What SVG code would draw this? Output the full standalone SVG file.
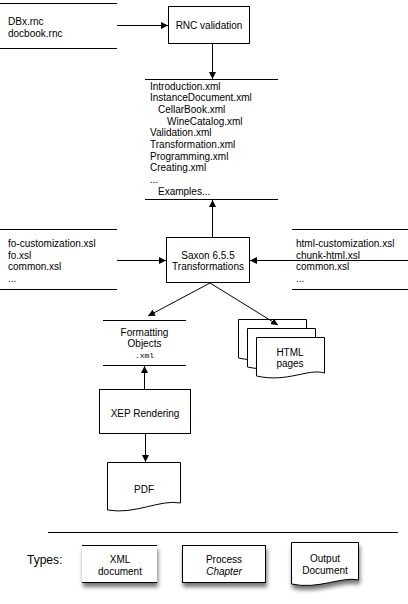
<svg xmlns="http://www.w3.org/2000/svg" width="408" height="604" viewBox="0 0 408 604">
<style>
text{font-family:"Liberation Sans",Arial,sans-serif;font-size:10px;fill:#000}
.c{text-anchor:middle}
.m{font-family:"Liberation Mono","Courier New",monospace;font-size:8px}
.ln{stroke:#000;stroke-width:1;fill:none}
.box{stroke:#000;stroke-width:1;fill:#fff}
.ar{stroke:#000;stroke-width:1;fill:none;marker-end:url(#ah)}
</style>
<defs>
<marker id="ah" viewBox="0 0 10 10" refX="10" refY="5" markerWidth="7" markerHeight="7" markerUnits="userSpaceOnUse" orient="auto">
<path d="M0,0 L10,5 L0,10 Z" fill="#000"/>
</marker>
<filter id="sh" x="-20%" y="-20%" width="140%" height="160%">
<feDropShadow dx="1" dy="4" stdDeviation="2" flood-color="#000" flood-opacity="0.55"/>
</filter>
</defs>

<g id="rnc-files">
<line class="ln" x1="0" y1="3.5" x2="117" y2="3.5"/>
<line class="ln" x1="0" y1="48.5" x2="117" y2="48.5"/>
<text x="8" y="25">DBx.rnc</text>
<text x="8" y="36.7">docbook.rnc</text>
</g>

<g id="rnc-validation">
<rect class="box" x="168.5" y="6.5" width="81" height="37"/>
<text class="c" x="209" y="28.5">RNC validation</text>
</g>

<g id="chapters">
<line class="ln" x1="145" y1="79.5" x2="278" y2="79.5"/>
<line class="ln" x1="145" y1="199.5" x2="278" y2="199.5"/>
<text x="150" y="89.5">Introduction.xml</text>
<text x="150" y="101.2">InstanceDocument.xml</text>
<text x="158" y="112.9">CellarBook.xml</text>
<text x="167" y="124.6">WineCatalog.xml</text>
<text x="150" y="136.3">Validation.xml</text>
<text x="150" y="148">Transformation.xml</text>
<text x="150" y="159.7">Programming.xml</text>
<text x="150" y="171.4">Creating.xml</text>
<text x="150" y="183.1">...</text>
<text x="158" y="194.8">Examples...</text>
</g>

<g id="fo-stylesheets">
<line class="ln" x1="0" y1="229.5" x2="117" y2="229.5"/>
<line class="ln" x1="0" y1="289.5" x2="117" y2="289.5"/>
<text x="8" y="247">fo-customization.xsl</text>
<text x="8" y="258.5">fo.xsl</text>
<text x="8" y="270">common.xsl</text>
<text x="8" y="281.5">...</text>
</g>

<g id="html-stylesheets">
<line class="ln" x1="292" y1="229.5" x2="408" y2="229.5"/>
<line class="ln" x1="292" y1="289.5" x2="408" y2="289.5"/>
<text x="296" y="247">html-customization.xsl</text>
<text x="296" y="258.5">chunk-html.xsl</text>
<text x="296" y="270">common.xsl</text>
<text x="296" y="281.5">...</text>
</g>

<g id="saxon">
<rect class="box" x="166.5" y="237.5" width="83" height="45"/>
<text class="c" x="208" y="258.5">Saxon 6.5.5</text>
<text class="c" x="208" y="270">Transformations</text>
</g>

<g id="formatting-objects">
<line class="ln" x1="103" y1="320.5" x2="186" y2="320.5"/>
<line class="ln" x1="103" y1="365.5" x2="186" y2="365.5"/>
<text class="c" x="144.5" y="335.5">Formatting</text>
<text class="c" x="144.5" y="347">Objects</text>
<text class="c m" x="144.5" y="358">.xml</text>
</g>

<g id="html-pages">
<path class="box" d="M238.5,319.5 H306.5 V355 C290,350 270,365 238.5,358 Z"/>
<path class="box" d="M247.5,328.5 H315.5 V364 C299,359 279,374 247.5,367 Z"/>
<path class="box" d="M256.5,337.5 H324.5 V373 C308,368 288,383 256.5,376 Z"/>
<text class="c" x="290" y="355.5">HTML</text>
<text class="c" x="290" y="367">pages</text>
</g>

<g id="xep">
<rect class="box" x="99.5" y="389.5" width="91" height="44"/>
<text class="c" x="145" y="416.5">XEP Rendering</text>
</g>

<g id="pdf">
<path class="box" d="M107.5,462.5 H180.5 V503 C160,499 135,515 107.5,510 Z"/>
<text class="c" x="144" y="492.5">PDF</text>
</g>

<g id="connectors">
<line class="ar" x1="117" y1="25.5" x2="168" y2="25.5"/>
<line class="ar" x1="212.5" y1="44" x2="212.5" y2="79"/>
<line class="ar" x1="212.5" y1="237" x2="212.5" y2="200"/>
<line class="ar" x1="117" y1="260.5" x2="166" y2="260.5"/>
<line class="ar" x1="408" y1="260.5" x2="250" y2="260.5"/>
<line class="ar" x1="210" y1="283" x2="148" y2="316"/>
<line class="ar" x1="210" y1="283" x2="278" y2="325"/>
<line class="ar" x1="144.5" y1="389" x2="144.5" y2="366"/>
<line class="ar" x1="145.5" y1="434" x2="145.5" y2="462"/>
</g>

<g id="legend">
<line class="ln" x1="48" y1="532.5" x2="398" y2="532.5"/>
<text x="27" y="564" style="font-size:12px">Types:</text>
<g id="legend-xml">
<rect x="82" y="545" width="75" height="38" fill="#fff" filter="url(#sh)"/>
<line class="ln" x1="82" y1="545.5" x2="157" y2="545.5"/>
<line class="ln" x1="82" y1="582.5" x2="157" y2="582.5"/>
<text class="c" x="120" y="562.5">XML</text>
<text class="c" x="120" y="575">document</text>
</g>
<g id="legend-process">
<rect class="box" x="182.5" y="545.5" width="83" height="37" filter="url(#sh)"/>
<text class="c" x="224" y="562.5">Process</text>
<text class="c" x="224" y="575" font-style="italic">Chapter</text>
</g>
<g id="legend-output">
<path class="box" d="M291.5,542.5 H358.5 V580 C342,576 318,590 291.5,584 Z" filter="url(#sh)"/>
<text class="c" x="325" y="562">Output</text>
<text class="c" x="325" y="574">Document</text>
</g>
</g>
</svg>
